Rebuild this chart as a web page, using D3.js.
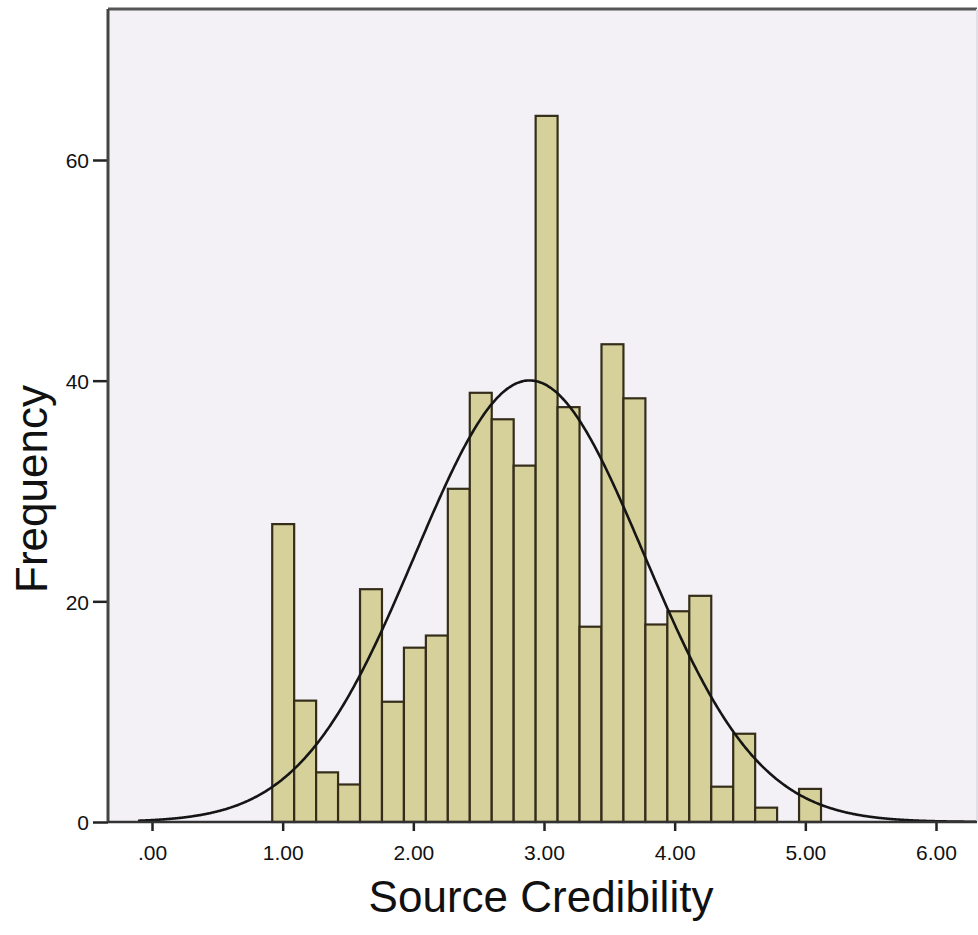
<!DOCTYPE html>
<html>
<head>
<meta charset="utf-8">
<script src="https://cdn.jsdelivr.net/npm/d3@7"></script>
<style>
  html, body { margin: 0; padding: 0; background: #ffffff; }
  svg { display: block; }
  text { font-family: Arial, "Liberation Sans", sans-serif; fill: #111; }
</style>
</head>
<body>
<svg id="chart" width="978" height="935"></svg>
<script>
// Histogram of Source Credibility scores with a fitted normal curve
const binStart = 0.92;   // left edge of the first bin
const binWidth = 0.168;  // width of each bin
const counts = [27, 11, 4.5, 3.4, 21.1, 10.9, 15.8, 16.9, 30.2, 38.9, 36.5, 32.3, 64,
                37.6, 17.7, 43.3, 38.4, 17.9, 19.1, 20.5, 3.2, 8, 1.3, 0, 3];
const curveMean = 2.89;
const curveSd = 0.875;
const xTickValues = [0, 1, 2, 3, 4, 5, 6];
const xTickLabels = [".00", "1.00", "2.00", "3.00", "4.00", "5.00", "6.00"];
const yTickValues = [0, 20, 40, 60];
const xTitle = "Source Credibility";
const yTitle = "Frequency";

const svg = d3.select("#chart");

// plot frame in pixels
const frame = { left: 108, top: 9, right: 977, bottom: 822 };

const x = d3.scaleLinear().domain([0, 6]).range([152, 936]);
const y = d3.scaleLinear().domain([0, 60]).range([822, 160]);

// plot background
svg.append("rect")
  .attr("x", frame.left).attr("y", frame.top)
  .attr("width", frame.right - frame.left)
  .attr("height", frame.bottom - frame.top)
  .attr("fill", "#f3f1f6");

// bars
const bins = counts.map((c, i) => ({ x0: binStart + i * binWidth, x1: binStart + (i + 1) * binWidth, n: c }));
svg.append("g").selectAll("rect")
  .data(bins.filter(d => d.n > 0))
  .join("rect")
  .attr("x", d => x(d.x0))
  .attr("y", d => y(d.n))
  .attr("width", d => x(d.x1) - x(d.x0))
  .attr("height", d => y(0) - y(d.n))
  .attr("fill", "#d6d09a")
  .attr("stroke", "#342d1a")
  .attr("stroke-width", 2.2);

// fitted normal curve scaled to the histogram area
const total = d3.sum(counts);
const density = v => total * binWidth / (curveSd * Math.sqrt(2 * Math.PI)) *
  Math.exp(-0.5 * Math.pow((v - curveMean) / curveSd, 2));
const xs = d3.range(x.invert(frame.left + 30), x.invert(frame.right) + 0.001, 0.01);
svg.append("path")
  .datum(xs)
  .attr("fill", "none")
  .attr("stroke", "#151515")
  .attr("stroke-width", 2.6)
  .attr("d", d3.line().x(v => x(v)).y(v => y(density(v))).curve(d3.curveBasis));

// frame lines: top and right
svg.append("line")
  .attr("x1", frame.left).attr("x2", frame.right)
  .attr("y1", frame.top).attr("y2", frame.top)
  .attr("stroke", "#555").attr("stroke-width", 3);
svg.append("line")
  .attr("x1", frame.right).attr("x2", frame.right)
  .attr("y1", frame.top).attr("y2", frame.bottom)
  .attr("stroke", "#e2e0e6").attr("stroke-width", 2);

// y axis
const yAxis = d3.axisLeft(y).tickValues(yTickValues).tickSize(15).tickPadding(4).tickSizeOuter(0);
const gy = svg.append("g").attr("transform", `translate(${frame.left},0)`).call(yAxis);
gy.select(".domain").remove();
svg.append("line")
  .attr("x1", frame.left).attr("x2", frame.left)
  .attr("y1", frame.top).attr("y2", frame.bottom)
  .attr("stroke", "#444").attr("stroke-width", 3);
gy.selectAll(".tick line").attr("stroke", "#222").attr("stroke-width", 2.5);
gy.selectAll(".tick text").attr("font-size", 21).attr("fill", "#111")
  .attr("font-family", "Arial, 'Liberation Sans', sans-serif").attr("dy", "0.38em");

// x axis
const xAxis = d3.axisBottom(x).tickValues(xTickValues)
  .tickFormat((d, i) => xTickLabels[i]).tickSize(9).tickPadding(14).tickSizeOuter(0);
const gx = svg.append("g").attr("transform", `translate(0,${frame.bottom})`).call(xAxis);
gx.select(".domain").remove();
svg.append("line")
  .attr("x1", frame.left).attr("x2", frame.right)
  .attr("y1", frame.bottom).attr("y2", frame.bottom)
  .attr("stroke", "#333").attr("stroke-width", 2.5);
gx.selectAll(".tick line").attr("stroke", "#222").attr("stroke-width", 2.5);
gx.selectAll(".tick text").attr("font-size", 21).attr("fill", "#111")
  .attr("font-family", "Arial, 'Liberation Sans', sans-serif");

// axis titles
svg.append("text")
  .attr("x", 541).attr("y", 912)
  .attr("text-anchor", "middle")
  .attr("font-size", 44)
  .text(xTitle);
svg.append("text")
  .attr("transform", "translate(47,489) rotate(-90)")
  .attr("text-anchor", "middle")
  .attr("font-size", 44)
  .text(yTitle);
</script>
</body>
</html>
